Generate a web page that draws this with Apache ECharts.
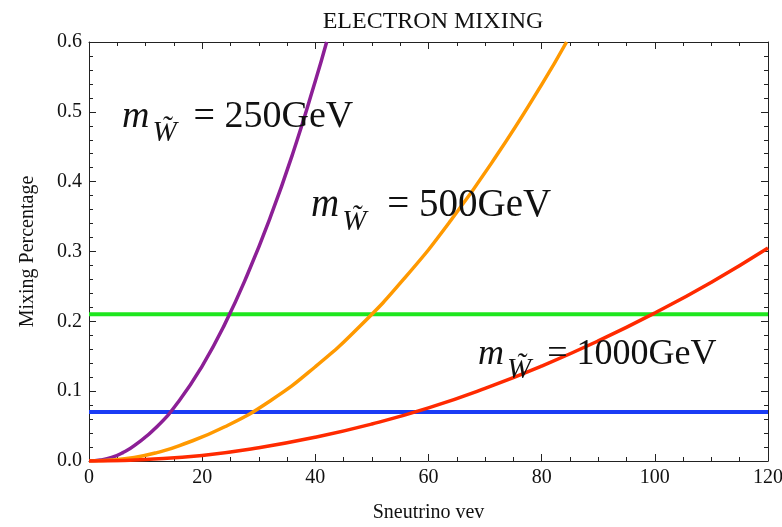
<!DOCTYPE html>
<html>
<head>
<meta charset="utf-8">
<script src="https://cdn.jsdelivr.net/npm/echarts@6/dist/echarts.min.js"></script>
<style>html,body{margin:0;padding:0;background:#fff;overflow:hidden;}#c{width:782px;height:527px;}</style>
</head>
<body>
<div id="c"></div>
<script>
// ---- data ----
const chartTitle = 'ELECTRON MIXING';
const xName = 'Sneutrino vev';
const yName = 'Mixing Percentage';
const purpleX = [0, 2, 4, 6, 8, 12, 16, 20, 24, 28, 32, 36, 40, 42];
const purpleY = [0, 0.0014, 0.005, 0.012, 0.022, 0.049, 0.087, 0.136, 0.196, 0.267, 0.348, 0.44, 0.544, 0.6];
const orangeX = [0, 4, 8, 12, 16, 24, 32, 40, 48, 56, 64, 72, 80, 84.4];
const orangeY = [0, 0.0013, 0.005, 0.012, 0.022, 0.049, 0.086, 0.135, 0.194, 0.264, 0.345, 0.437, 0.539, 0.6];
const redX = [0, 5, 10, 20, 30, 40, 50, 60, 70, 80, 90, 100, 110, 120];
const redY = [0, 0.0005, 0.002, 0.008, 0.019, 0.034, 0.053, 0.076, 0.104, 0.136, 0.172, 0.212, 0.256, 0.305];
const greenLevel = 0.21;
const blueLevel = 0.07;
const labelMasses = ['250GeV', '500GeV', '1000GeV'];

const zip = (xs, ys) => xs.map((x, i) => [x, ys[i]]);
const serif = 'Liberation Serif, DejaVu Serif, serif';

const chart = echarts.init(document.getElementById('c'));
const axisCommon = {
  type: 'value',
  axisLine: { show: true, onZero: false, lineStyle: { color: '#222', width: 1 } },
  axisTick: { show: true, inside: true, length: 7, lineStyle: { color: '#222' } },
  minorTick: { show: true, length: 4, lineStyle: { color: '#222' } },
  splitLine: { show: false },
  minorSplitLine: { show: false }
};
function lineSeries(data, color, width) {
  return { type: 'line', data: data, showSymbol: false, smooth: true, clip: true,
    lineStyle: { color: color, width: width }, itemStyle: { color: color }, z: 3 };
}
// label layout: [left, top, gap after subscript, font size]
const labelLayout = [[122, 98, 17, 38], [311, 186, 21, 39], [478, 337, 16, 36]];
function mLabel(mass, gap, fs) {
  return {
    rich: {
      m: { fontFamily: serif, fontStyle: 'italic', fontSize: fs, lineHeight: 42, verticalAlign: 'bottom' },
      s: { fontFamily: serif, fontStyle: 'italic', fontSize: 29, lineHeight: 32, verticalAlign: 'bottom', padding: [0, gap, -12, 3] },
      t: { fontFamily: serif, fontSize: fs, lineHeight: 42, verticalAlign: 'bottom' }
    },
    text: '{m|m}{s|W\u0303}{t|= ' + mass + '}'
  };
}

chart.setOption({
  animation: false,
  backgroundColor: '#fff',
  title: {
    text: chartTitle, left: 428, top: 5, textAlign: 'center',
    textStyle: { fontFamily: serif, fontWeight: 'normal', fontSize: 24, color: '#111' }
  },
  grid: { left: 89, right: 14, top: 42, bottom: 66, containLabel: false, outerBoundsMode: 'none' },
  xAxis: [
    Object.assign({}, axisCommon, {
      min: 0, max: 120, interval: 20, position: 'bottom',
      minorTick: Object.assign({}, axisCommon.minorTick, { splitNumber: 4 }),
      axisLabel: { fontFamily: serif, fontSize: 20, color: '#111', margin: 7 },
      name: xName, nameLocation: 'middle', nameGap: 42,
      nameTextStyle: { fontFamily: serif, fontSize: 20, color: '#111' }
    }),
    Object.assign({}, axisCommon, {
      min: 0, max: 120, interval: 20, position: 'top',
      minorTick: Object.assign({}, axisCommon.minorTick, { splitNumber: 4 }),
      axisLabel: { show: false }
    })
  ],
  yAxis: [
    Object.assign({}, axisCommon, {
      min: 0, max: 0.6, interval: 0.1, position: 'left',
      minorTick: Object.assign({}, axisCommon.minorTick, { splitNumber: 5 }),
      axisLabel: { fontFamily: serif, fontSize: 20, color: '#111', margin: 7, formatter: v => v.toFixed(1) },
      name: yName, nameLocation: 'middle', nameGap: 51,
      nameTextStyle: { fontFamily: serif, fontSize: 20, color: '#111' }
    }),
    Object.assign({}, axisCommon, {
      min: 0, max: 0.6, interval: 0.1, position: 'right',
      minorTick: Object.assign({}, axisCommon.minorTick, { splitNumber: 5 }),
      axisLabel: { show: false }
    })
  ],
  series: [
    lineSeries([[0, greenLevel], [120, greenLevel]], '#1ee61e', 4),
    lineSeries([[0, blueLevel], [120, blueLevel]], '#1a3cf5', 4),
    lineSeries(zip(purpleX, purpleY), '#8c1f96', 3.5),
    lineSeries(zip(orangeX, orangeY), '#ff9900', 3.5),
    lineSeries(zip(redX, redY), '#ff2a00', 3.5)
  ],
  graphic: labelMasses.map((m, i) => ({
    type: 'text', left: labelLayout[i][0], top: labelLayout[i][1], z: 10,
    style: Object.assign({ fill: '#111' }, mLabel(m, labelLayout[i][2], labelLayout[i][3]))
  }))
});
</script>
</body>
</html>
